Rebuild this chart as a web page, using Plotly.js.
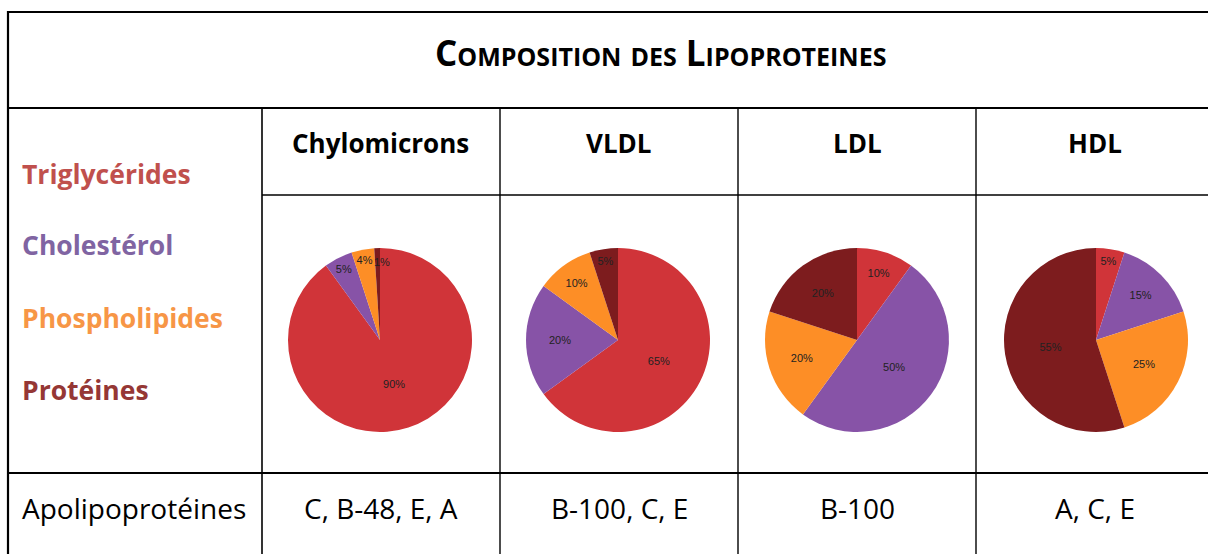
<!DOCTYPE html>
<html>
<head>
<meta charset="utf-8">
<script src="https://cdn.plot.ly/plotly-3.0.1.min.js"></script>
<style>
  html, body { margin: 0; padding: 0; background: #ffffff; }
  #chart { width: 1208px; height: 554px; }
</style>
</head>
<body>
<div id="chart"></div>
<script>
// ---- Data ----
const title = "Composition des Lipoproteines";
const components = ["Triglycérides", "Cholestérol", "Phospholipides", "Protéines"];
const lipoproteins = ["Chylomicrons", "VLDL", "LDL", "HDL"];
const chylomicronsValues = [90, 5, 4, 1];
const vldlValues = [65, 20, 10, 5];
const ldlValues = [10, 50, 20, 20];
const hdlValues = [5, 15, 25, 55];
const rowLabel = "Apolipoprotéines";
const apolipoproteins = ["C, B-48, E, A", "B-100, C, E", "B-100", "A, C, E"];

// ---- Styles ----
const W = 1208, H = 554;
const legendColors = ["#C0504D", "#8064A2", "#F79646", "#953735"];
const sliceColors = ["#D03439", "#8753A7", "#FD8E26", "#7D1C1E"];
const allValues = [chylomicronsValues, vldlValues, ldlValues, hdlValues];
const pieCentersX = [380, 618, 857, 1096];
const pieCenterY = 340;
const pieR = 92;
const colCentersX = [381, 619, 857, 1095];
const FONT = "'Open Sans', Lato, sans-serif";
const PIEFONT = { family: "'Liberation Sans', Arial, sans-serif", size: 11, color: "#222222" };
const SMALL = 3; // slices below this value get their label placed near the rim

const px = x => x / W;
const py = y => 1 - y / H;

const traces = allValues.map((vals, i) => ({
  type: "pie",
  values: vals,
  labels: components,
  sort: false,
  direction: "clockwise",
  rotation: 0,
  marker: { colors: sliceColors, line: { width: 0 } },
  text: vals.map(v => v >= SMALL ? v + "%" : ""),
  textinfo: "text",
  textposition: "inside",
  insidetextorientation: "horizontal",
  textfont: PIEFONT,
  hoverinfo: "label+percent",
  showlegend: false,
  domain: {
    x: [px(pieCentersX[i] - pieR), px(pieCentersX[i] + pieR)],
    y: [py(pieCenterY + pieR), py(pieCenterY - pieR)]
  }
}));

// table lines
const line = (x0, y0, x1, y1, w) => ({
  type: "line", xref: "paper", yref: "paper",
  x0: px(x0), y0: py(y0), x1: px(x1), y1: py(y1),
  line: { color: "#000000", width: w }
});
const shapes = [
  line(8, 12, 1210, 12, 2.2),
  line(8, 11, 8, 556, 2.2),
  line(7, 108, 1210, 108, 2.2),
  line(7, 473, 1210, 473, 2.2),
  line(262, 108, 262, 556, 1.6),
  line(500, 108, 500, 556, 1.4),
  line(738, 108, 738, 556, 1.4),
  line(976, 108, 976, 556, 1.4),
  line(262, 195, 1210, 195, 1.4)
];

const ann = (text, x, y, opts) => Object.assign({
  text: text, xref: "paper", yref: "paper", x: px(x), y: py(y),
  xanchor: "center", yanchor: "middle", showarrow: false, borderpad: 0
}, opts);

const annotations = [];
annotations.push(ann(title, 660, 52, {
  font: { family: FONT, size: 35, color: "#000000", weight: 700, variant: "small-caps" }
}));
lipoproteins.forEach((name, i) => {
  annotations.push(ann(name, colCentersX[i], 143, {
    font: { family: FONT, size: 26, color: "#000000", weight: 700 }
  }));
});
const legendY = [174, 245, 318, 390];
components.forEach((name, i) => {
  annotations.push(ann(name, 21, legendY[i], {
    xanchor: "left",
    font: { family: FONT, size: 26.5, color: legendColors[i], weight: 700 }
  }));
});
annotations.push(ann(rowLabel, 21, 508, {
  xanchor: "left",
  font: { family: FONT, size: 28, color: "#000000" }
}));
apolipoproteins.forEach((t, i) => {
  annotations.push(ann(t, colCentersX[i], 508, {
    font: { family: FONT, size: 28, color: "#000000" }
  }));
});

// labels of very thin slices, placed near the rim along the slice bisector
allValues.forEach((vals, i) => {
  const total = vals.reduce((a, b) => a + b, 0);
  let cum = 0;
  vals.forEach(v => {
    const mid = (cum + v / 2) / total * 2 * Math.PI;
    cum += v;
    if (v >= SMALL) return;
    const rr = 0.85 * pieR;
    annotations.push(ann(v + "%", pieCentersX[i] + rr * Math.sin(mid) + 4, pieCenterY - rr * Math.cos(mid), {
      font: PIEFONT
    }));
  });
});

const layout = {
  width: W, height: H,
  margin: { l: 0, r: 0, t: 0, b: 0, pad: 0 },
  paper_bgcolor: "#ffffff",
  plot_bgcolor: "#ffffff",
  showlegend: false,
  shapes: shapes,
  annotations: annotations
};

Plotly.newPlot("chart", traces, layout, { displayModeBar: false, staticPlot: true });
</script>
</body>
</html>
